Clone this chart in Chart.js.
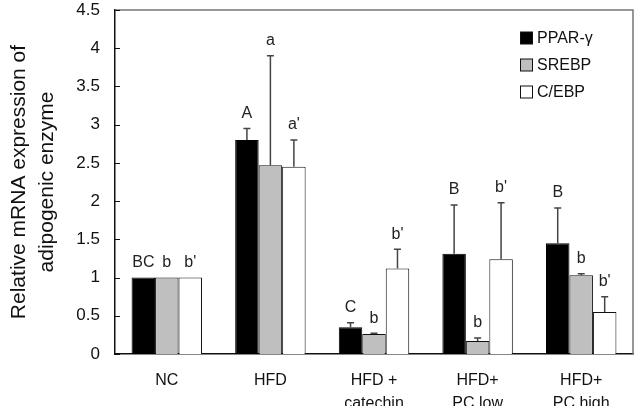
<!DOCTYPE html>
<html>
<head>
<meta charset="utf-8">
<script src="https://cdn.jsdelivr.net/npm/chart.js@4"></script>
<style>
  html, body { margin: 0; padding: 0; background: #fff; }
  #wrap { width: 639px; height: 406px; }
</style>
</head>
<body>
<div id="wrap"><canvas id="mychart" width="639" height="406"></canvas></div>
<script>
// data
var groups = [['NC'], ['HFD'], ['HFD +', 'catechin'], ['HFD+', 'PC low'], ['HFD+', 'PC high']]
var seriesNames = ['PPAR-\u03b3', 'SREBP', 'C/EBP']
var ppar = [1, 2.80, 0.35, 1.31, 1.45]
var pparErr = [0, 0.15, 0.06, 0.64, 0.46]
var srebp = [1, 2.47, 0.26, 0.17, 1.03]
var srebpErr = [0, 1.43, 0.01, 0.04, 0.02]
var cebp = [1, 2.45, 1.12, 1.24, 0.55]
var cebpErr = [0, 0.35, 0.25, 0.74, 0.20]
var pparLetters = ['BC', 'A', 'C', 'B', 'B']
var srebpLetters = ['b', 'a', 'b', 'b', 'b']
var cebpLetters = ["b'", "a'", "b'", "b'", "b'"]
var yTicks = [0, 0.5, 1, 1.5, 2, 2.5, 3, 3.5, 4, 4.5]

var errs = [pparErr, srebpErr, cebpErr]
var letters = [pparLetters, srebpLetters, cebpLetters]
var FONT = 'Arial, "Liberation Sans", sans-serif'

var extras = {
    id: 'extras',
    afterDatasetsDraw: function(chart) {
        var ctx = chart.ctx
        var area = chart.chartArea
        var y = chart.scales.y
        ctx.save()

        // frame top/right
        ctx.strokeStyle = '#777'
        ctx.lineWidth = 1.5
        ctx.beginPath()
        ctx.moveTo(area.left, area.top)
        ctx.lineTo(area.right, area.top)
        ctx.lineTo(area.right, area.bottom)
        ctx.stroke()

        // inward ticks on y axis
        ctx.strokeStyle = '#111'
        ctx.lineWidth = 1
        yTicks.forEach(function(t) {
            var py = Math.round(y.getPixelForValue(t)) + 0.5
            ctx.beginPath()
            ctx.moveTo(area.left, py)
            ctx.lineTo(area.left + 5, py)
            ctx.stroke()
        })

        // error bars + letters
        chart.data.datasets.forEach(function(ds, i) {
            var meta = chart.getDatasetMeta(i)
            meta.data.forEach(function(bar, j) {
                var v = ds.data[j]
                var e = errs[i][j]
                var top = y.getPixelForValue(v + e)
                if (e > 0) {
                    var base = y.getPixelForValue(v)
                    ctx.strokeStyle = '#444'
                    ctx.lineWidth = 1.5
                    ctx.beginPath()
                    ctx.moveTo(bar.x, base)
                    ctx.lineTo(bar.x, top)
                    ctx.moveTo(bar.x - 3.5, top)
                    ctx.lineTo(bar.x + 3.5, top)
                    ctx.stroke()
                }
                ctx.fillStyle = '#222'
                ctx.font = '16px ' + FONT
                ctx.textAlign = 'center'
                ctx.textBaseline = 'middle'
                ctx.fillText(letters[i][j], bar.x, top - 15)
            })
        })

        // legend
        ctx.font = '16px ' + FONT
        ctx.textAlign = 'left'
        ctx.textBaseline = 'middle'
        chart.data.datasets.forEach(function(ds, i) {
            var cy = 38 + i * 27
            ctx.fillStyle = ds.backgroundColor
            ctx.fillRect(520.5, cy - 6, 12, 12)
            ctx.strokeStyle = '#111'
            ctx.lineWidth = 1
            ctx.strokeRect(520.5, cy - 6, 12, 12)
            ctx.fillStyle = '#111'
            ctx.fillText(ds.label, 537, cy + 1)
        })
        ctx.restore()
    }
}

var chart = new Chart(document.getElementById('mychart').getContext('2d'), {
    type: 'bar',
    data: {
        labels: groups,
        datasets: [
            { label: seriesNames[0], data: ppar, backgroundColor: '#000000', borderColor: '#000', borderWidth: 1 },
            { label: seriesNames[1], data: srebp, backgroundColor: '#bfbfbf', borderColor: '#111', borderWidth: 1 },
            { label: seriesNames[2], data: cebp, backgroundColor: '#ffffff', borderColor: '#111', borderWidth: 1 }
        ]
    },
    options: {
        responsive: false,
        animation: false,
        layout: { padding: { top: 0, right: 6, left: 0, bottom: 0 } },
        plugins: { legend: { display: false }, tooltip: { enabled: false } },
        datasets: { bar: { categoryPercentage: 0.68, barPercentage: 1.0 } },
        scales: {
            x: {
                grid: { display: false, drawTicks: false },
                border: { display: true, color: '#111', width: 1.5 },
                ticks: { color: '#111', font: { family: FONT, size: 16, lineHeight: 1.44 }, padding: 15, maxRotation: 0 },
                afterFit: function(s) { s.height = 52; s.paddingLeft = 0; s.paddingRight = 0 }
            },
            y: {
                min: 0, max: 4.5,
                grid: { display: false, drawTicks: false },
                border: { display: true, color: '#111', width: 1.5 },
                ticks: {
                    stepSize: 0.5, color: '#111', font: { family: FONT, size: 17 }, padding: 15,
                    callback: function(v) { return String(v) }
                },
                title: {
                    display: true,
                    text: ['Relative mRNA expression of', 'adipogenic enzyme'],
                    color: '#111',
                    font: { family: FONT, size: 21, lineHeight: 1.3 },
                    padding: { top: 6, bottom: 0 }
                },
                afterFit: function(s) { s.width = 115; s.paddingTop = 10; s.paddingBottom = 0 }
            }
        }
    },
    plugins: [extras]
})
</script>
</body>
</html>
